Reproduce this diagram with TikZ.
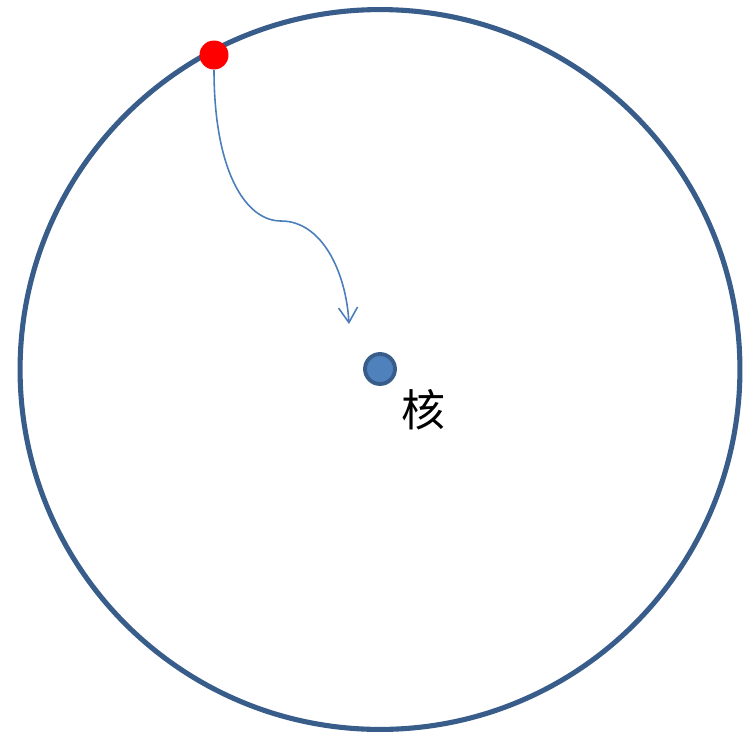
\documentclass[tikz,border=0pt]{standalone}
\usepackage{fontspec}
\newfontfamily\cjk{Noto Sans CJK SC}
\definecolor{orbitblue}{RGB}{56, 93, 138}
\definecolor{nucblue}{RGB}{79, 129, 189}
\definecolor{pathblue}{RGB}{74, 126, 187}
\usetikzlibrary{arrows.meta}
\tikzset{
	orbit/.style={draw=orbitblue, line width=2.9pt},
	electron/.style={circle, fill=red, inner sep=0pt, minimum size=0.58cm},
	nucleus/.style={circle, draw=orbitblue, fill=nucblue, line width=2.2pt, inner sep=0pt, minimum size=0.6cm},
	nuclabel/.style={font=\cjk\fontsize{25}{29}\selectfont, inner sep=0pt},
	fallpath/.style={-{Straight Barb[length=3mm, width=3.8mm]}, draw=pathblue, line width=0.9pt},
}

\begin{document}
\begin{tikzpicture}[x=0.02cm, y=-0.02cm]
	\useasboundingbox (0,0) rectangle (754,734);
	\draw[orbit] (380,369.5) circle [radius=7.2cm];
	\node[nucleus] (nuc) at (380,369) {};
	\node[nuclabel] (lab) at (423,410) {核};
	\node[electron] (e) at (214,55) {};
	\coordinate (stop) at (349,324);
	\draw[fallpath] (e.south) .. controls (214,170) and (245,221) .. (281,221) .. controls (322,221) and (346,272) .. (stop);
\end{tikzpicture}
\end{document}
